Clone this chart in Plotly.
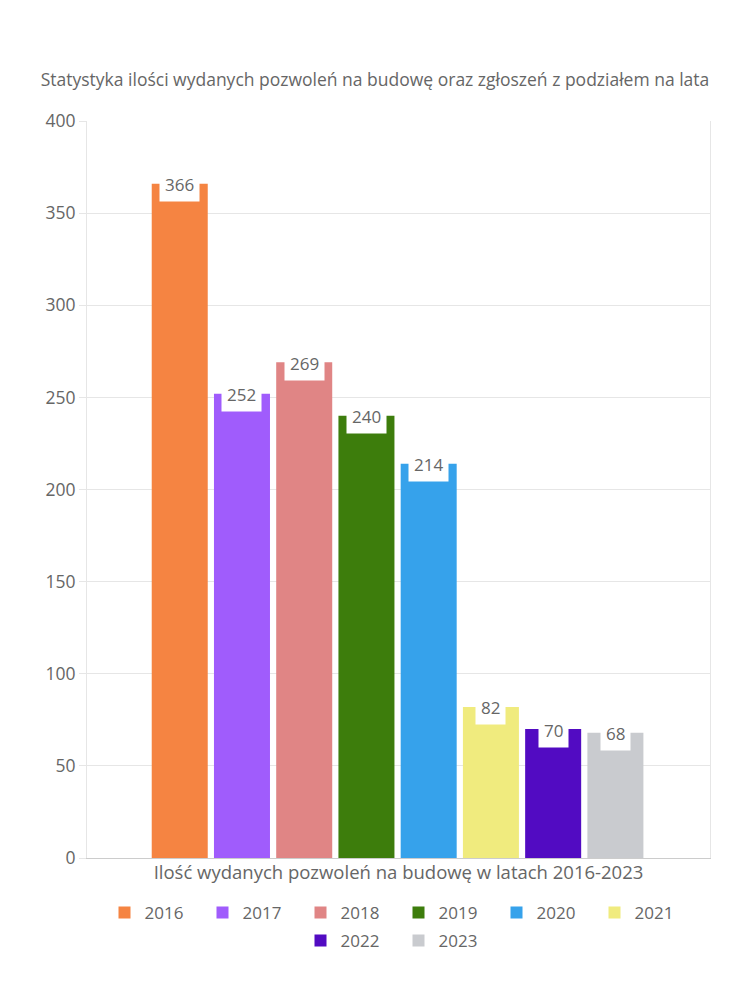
import plotly.graph_objects as go

years = ["2016", "2017", "2018", "2019", "2020", "2021", "2022", "2023"]
values = [366, 252, 269, 240, 214, 82, 70, 68]
colors = ["#f58442", "#a05cfc", "#e08585", "#3d7d0c", "#36a2eb", "#f0eb7e", "#520bc2", "#c9cbcf"]
legend_rows = ["legend", "legend", "legend", "legend", "legend", "legend", "legend2", "legend2"]
y_ticks = [0, 50, 100, 150, 200, 250, 300, 350, 400]
title_text = "Statystyka ilości wydanych pozwoleń na budowę oraz zgłoszeń z podziałem na lata"
x_title = "Ilość wydanych pozwoleń na budowę w latach 2016-2023"

FONT = "Open Sans"
TXT = "#666666"

fig = go.Figure()
for yr, v, c, lg in zip(years, values, colors, legend_rows):
    fig.add_trace(go.Bar(x=[yr], y=[v], name=yr, marker=dict(color=c, line=dict(width=0)),
                         hoverinfo="skip", legend=lg))

for i, v in enumerate(values):
    fig.add_annotation(x=i, y=v, text=str(v), showarrow=False, xref="x", yref="y",
                       yanchor="middle", yshift=-1, bgcolor="white", borderpad=5,
                       font=dict(family=FONT, size=17, color=TXT))

leg_common = dict(orientation="h", x=0.5, xanchor="center", yanchor="top",
                  entrywidth=53, entrywidthmode="pixels",
                  font=dict(family=FONT, size=17, color=TXT), traceorder="normal")

fig.update_layout(
    width=750, height=1000,
    margin=dict(l=87, r=40, t=121, b=142),
    paper_bgcolor="white", plot_bgcolor="white",
    barmode="overlay", bargap=0.1,
    font=dict(family=FONT, color=TXT, size=17),
    title=dict(text=title_text, x=0.5, xanchor="center", y=1 - 80 / 1000, yanchor="middle",
               font=dict(family=FONT, size=17.5, color=TXT)),
    showlegend=True,
    legend=dict(y=-0.05, **leg_common),
    legend2=dict(y=-0.088, **leg_common),
    xaxis=dict(type="category", range=[-1.49, 8.52], showticklabels=False, ticks="",
               showgrid=False, showline=True, linecolor="#cccccc", linewidth=1,
               title=dict(text=x_title, standoff=8, font=dict(family=FONT, size=18.5, color=TXT))),
    yaxis=dict(range=[0, 400], tickvals=y_ticks, showgrid=True, gridcolor="#e6e6e6",
               showline=True, linecolor="#e6e6e6", mirror=True, ticks="outside",
               ticklen=7, tickcolor="#e6e6e6", zeroline=False,
               tickfont=dict(family=FONT, size=17.5, color=TXT)),
)

fig.write_html("out.html")
